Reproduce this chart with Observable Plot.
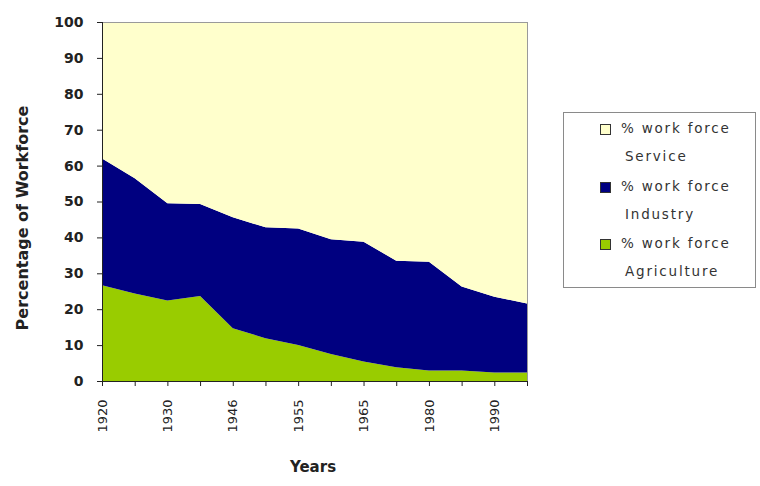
<!DOCTYPE html>
<html><head><meta charset="utf-8">
<script src="https://cdn.jsdelivr.net/npm/d3@7"></script>
<script src="https://cdn.jsdelivr.net/npm/@observablehq/plot@0.6"></script>
<style>
body{margin:0;background:#fff;}
#wrap{position:relative;width:760px;height:486px;}
#legend{position:absolute;left:563px;top:112px;width:193px;height:176px;border:1px solid #8a8a8a;background:#fff;box-sizing:border-box;font-family:"DejaVu Sans",sans-serif;font-size:13.5px;letter-spacing:1.8px;color:#333;}
.item{position:absolute;left:36px;}
.sw{position:absolute;left:0;top:4px;width:9px;height:9px;border:1px solid #333;}
.l1{position:absolute;left:21px;top:0;white-space:nowrap;}
.l2{position:absolute;left:25px;top:28px;white-space:nowrap;}
</style></head>
<body><div id="wrap"></div>
<script>
const years = ["1920","1925","1930","1940","1946","1950","1955","1960","1965","1970","1980","1985","1990","1995"];
const seriesNames = ["Agriculture","Industry","Service"];
const agriculture = [26.7,24.4,22.4,23.7,14.7,11.9,10.0,7.5,5.4,3.8,2.9,2.9,2.4,2.4];
const industry = [35.3,32.1,27.1,25.6,30.9,30.9,32.5,32.0,33.4,29.7,30.3,23.4,21.1,19.2];
const service = [38.0,43.5,50.5,50.7,54.4,57.2,57.5,60.5,61.2,66.5,66.8,73.7,76.5,78.4];
const colors = ["#99cc00","#000080","#ffffcc"];
const yTicks = [0,10,20,30,40,50,60,70,80,90,100];

const rows = [];
const vals = [agriculture, industry, service];
seriesNames.forEach((s, k) => years.forEach((y, i) => rows.push({year: y, series: s, value: vals[k][i]})));

const chart = Plot.plot({
  width: 760, height: 486,
  marginLeft: 102, marginRight: 233, marginTop: 22, marginBottom: 105,
  style: {fontFamily: "DejaVu Sans, sans-serif", fontSize: "12px", color: "#222", background: "transparent"},
  x: {type: "point", domain: years, padding: 0, round: false},
  y: {domain: [0, 100]},
  color: {domain: seriesNames, range: colors},
  marks: [
    Plot.areaY(rows, {x: "year", y: "value", z: "series", fill: "series", order: seriesNames}),
    Plot.frame({stroke: "#9a9a9a"}),
    Plot.ruleY([0], {stroke: "#222"}),
    Plot.ruleX([years[0]], {stroke: "#222"}),
    Plot.axisY({ticks: yTicks, tickSize: 5, tickPadding: 14, label: null, fontWeight: "bold", fontSize: 14}),
    Plot.axisX({tickSize: 5, tickPadding: 13, tickRotate: -90, tickFormat: (d, i) => i % 2 === 0 ? d : "", label: null, fontSize: 13}),
    Plot.text(["Percentage of Workforce"], {frameAnchor: "left", textAnchor: "middle", rotate: -90, dx: -80, dy: 16, fontWeight: "bold", fontSize: 16}),
    Plot.text(["Years"], {frameAnchor: "bottom", dy: 90, dx: -2, fontWeight: "bold", fontSize: 15})
  ]
});
document.getElementById("wrap").appendChild(chart);

const leg = document.createElement("div");
leg.id = "legend";
const tops = [7, 65, 122];
const legendNames = ["Service","Industry","Agriculture"];
const legendColors = ["#ffffcc","#000080","#99cc00"];
legendNames.forEach((n, i) => {
  const it = document.createElement("div");
  it.className = "item";
  it.style.top = tops[i] + "px";
  it.innerHTML = `<div class="sw" style="background:${legendColors[i]}"></div><div class="l1">% work force</div><div class="l2">${n}</div>`;
  leg.appendChild(it);
});
document.getElementById("wrap").appendChild(leg);
</script>
</body></html>
